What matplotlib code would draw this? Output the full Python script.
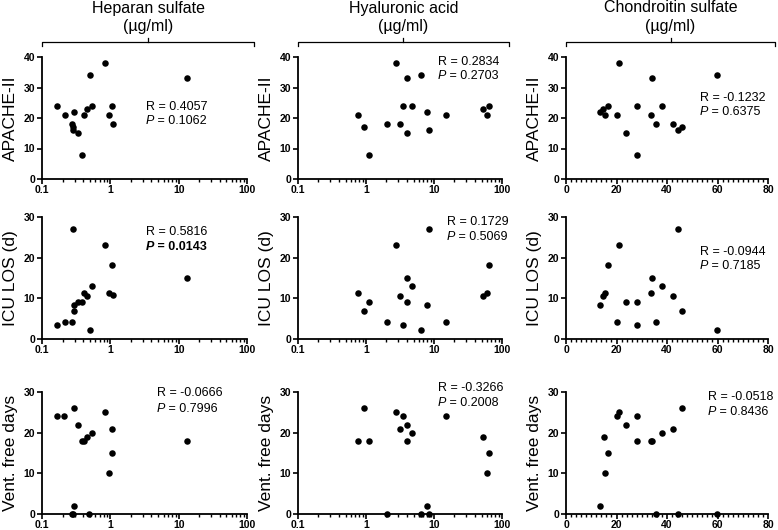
import matplotlib
matplotlib.use("Agg")
import matplotlib.pyplot as plt
from matplotlib.lines import Line2D
from matplotlib.ticker import MultipleLocator, LogLocator, NullFormatter

plt.rcParams["font.family"] = ["Liberation Sans", "DejaVu Sans"]

# ---- datos (n = 17 por panel) ----
col_titles = ["Heparan sulfate\n(µg/ml)", "Hyaluronic acid\n(µg/ml)", "Chondroitin sulfate\n(µg/ml)"]
row_labels = ["APACHE-II", "ICU LOS (d)", "Vent. free days"]

# Heparan sulfate
hs_apache_x = [0.166, 0.215, 0.273, 0.292, 0.282, 0.286, 0.342, 0.379, 0.41, 0.454, 0.497, 0.537, 0.844, 0.967, 1.05, 1.08, 13.2]
hs_apache_y = [24, 21, 18, 22, 17, 16, 15, 8, 21, 23, 34, 24, 38, 21, 24, 18, 33]
hs_los_x = [0.164, 0.215, 0.273, 0.286, 0.292, 0.295, 0.342, 0.379, 0.41, 0.45, 0.497, 0.537, 0.84, 0.967, 1.05, 1.08, 13.2]
hs_los_y = [3.4, 4.2, 4.3, 27, 6.8, 8.4, 9.0, 9.0, 11.3, 10.5, 2.2, 13, 23, 11.4, 18.3, 10.7, 15]
hs_vfd_x = [0.164, 0.213, 0.292, 0.338, 0.379, 0.41, 0.45, 0.537, 0.84, 1.05, 1.05, 0.967, 13.2, 0.29, 0.273, 0.28, 0.49]
hs_vfd_y = [24, 24, 26, 22, 18, 18, 19, 20, 25, 21, 15, 10, 18, 2, 0, 0, 0]

# Hyaluronic acid
ha_apache_x = [0.752, 0.92, 1.12, 2.06, 2.76, 3.13, 3.54, 4.02, 4.06, 4.81, 6.38, 7.92, 8.38, 14.8, 52.5, 60.8, 65.1]
ha_apache_y = [21, 17, 8, 18, 38, 18, 24, 15, 33, 24, 34, 22, 16, 21, 23, 21, 24]
ha_los_x = [0.752, 0.92, 1.12, 2.06, 2.76, 3.13, 3.54, 4.02, 4.02, 4.81, 6.38, 7.92, 8.38, 14.8, 52.5, 60.8, 65.1]
ha_los_y = [11.4, 6.8, 9.0, 4.2, 23, 10.6, 3.4, 15, 9.0, 13, 2.2, 8.4, 27, 4.2, 10.5, 11.3, 18.3]
ha_vfd_x = [0.752, 0.92, 1.12, 2.06, 2.76, 3.13, 3.54, 4.02, 4.06, 4.81, 6.38, 7.92, 8.38, 14.8, 52.5, 60.8, 65.1]
ha_vfd_y = [18, 26, 18, 0, 25, 21, 24, 22, 18, 20, 0, 2, 0, 24, 19, 10, 15]

# Chondroitin sulfate
cs_apache_x = [13.5, 14.5, 15.5, 16.6, 20.0, 20.8, 23.8, 28.2, 28.1, 33.5, 34.0, 35.7, 37.9, 42.3, 44.3, 46.0, 59.7]
cs_apache_y = [22, 23, 21, 24, 21, 38, 15, 24, 8, 21, 33, 18, 24, 18, 16, 17, 34]
cs_los_x = [13.5, 14.7, 15.3, 16.6, 20.0, 20.8, 23.8, 28.1, 28.3, 33.5, 33.9, 35.7, 38.1, 42.3, 44.3, 46.0, 59.7]
cs_los_y = [8.4, 10.5, 11.3, 18.3, 4.2, 23, 9.0, 9.0, 3.4, 11.4, 15, 4.2, 13, 10.5, 27, 6.8, 2.2]
cs_vfd_x = [13.5, 15.0, 15.5, 16.8, 20.0, 20.9, 23.8, 28.1, 28.3, 33.5, 34.2, 35.7, 38.0, 42.3, 44.3, 46.0, 59.7]
cs_vfd_y = [2, 19, 10, 15, 24, 25, 22, 18, 24, 18, 18, 0, 20, 21, 0, 26, 0]

# estadísticos (R, P) por panel; fila = variable clínica, columna = GAG
r_vals = [["0.4057", "0.2834", "-0.1232"],
          ["0.5816", "0.1729", "-0.0944"],
          ["-0.0666", "-0.3266", "-0.0518"]]
p_vals = [["0.1062", "0.2703", "0.6375"],
          ["0.0143", "0.5069", "0.7185"],
          ["0.7996", "0.2008", "0.8436"]]
p_signif = [[False, False, False], [True, False, False], [False, False, False]]

panels = [[(hs_apache_x, hs_apache_y), (ha_apache_x, ha_apache_y), (cs_apache_x, cs_apache_y)],
          [(hs_los_x, hs_los_y), (ha_los_x, ha_los_y), (cs_los_x, cs_los_y)],
          [(hs_vfd_x, hs_vfd_y), (ha_vfd_x, ha_vfd_y), (cs_vfd_x, cs_vfd_y)]]

y_max = [40, 30, 30]

# ---- geometría (píxeles de la figura original 778x530) ----
W, H = 778, 530
col_px = [(42, 247), (298, 502), (566, 768)]
row_px = [(57, 179), (217, 339), (392, 514)]
# posición del texto R/P: (x izquierda, y de R, y de P)
txt_px = [[(146, 107, 121), (438, 62, 76), (700, 98, 112)],
          [(146, 232, 247), (447, 222, 237), (700, 252, 266)],
          [(157, 393, 409), (438, 388, 403), (708, 397, 412)]]

fig = plt.figure(figsize=(W / 100, H / 100), dpi=100)

for i in range(3):
    for j in range(3):
        x0, x1 = col_px[j]
        t0, t1 = row_px[i]
        ax = fig.add_axes([x0 / W, 1 - t1 / H, (x1 - x0) / W, (t1 - t0) / H])
        xs, ys = panels[i][j]
        ax.scatter(xs, ys, s=22, color="black", linewidths=0, zorder=3, clip_on=False)

        for side in ("top", "right"):
            ax.spines[side].set_visible(False)
        for side in ("left", "bottom"):
            ax.spines[side].set_linewidth(1.3)

        if j < 2:
            ax.set_xscale("log")
            ax.set_xlim(0.1, 100)
            ax.set_xticks([0.1, 1, 10, 100])
            ax.set_xticklabels(["0.1", "1", "10", "100"])
            ax.xaxis.set_minor_locator(LogLocator(base=10, subs=range(2, 10)))
            ax.xaxis.set_minor_formatter(NullFormatter())
        else:
            ax.set_xlim(0, 80)
            ax.set_xticks([0, 20, 40, 60, 80])
            ax.xaxis.set_minor_locator(MultipleLocator(2))

        ax.set_ylim(0, y_max[i])
        ax.set_yticks(range(0, y_max[i] + 1, 10))
        ax.tick_params(axis="both", which="major", direction="out", length=3.5,
                       width=1.2, labelsize=7.5)
        ax.tick_params(axis="x", which="major", pad=0.5)
        ax.tick_params(axis="y", which="major", pad=1.5)
        ax.tick_params(axis="x", which="minor", direction="out", length=2, width=1)
        ax.tick_params(axis="y", which="minor", left=False)
        for lab in ax.get_xticklabels() + ax.get_yticklabels():
            lab.set_fontweight("bold")

        ax.set_ylabel(row_labels[i], fontsize=12.5, labelpad=4)

        # texto R / P
        tx, ry, py = txt_px[i][j]
        fw = "bold" if p_signif[i][j] else "normal"
        fig.text(tx / W, 1 - ry / H, f"R = {r_vals[i][j]}", fontsize=9, va="center")
        tp = fig.text(tx / W, 1 - py / H, "P", fontsize=9, va="center",
                      style="italic", weight=fw)
        ax.annotate(f" = {p_vals[i][j]}", xy=(1, 0), xycoords=tp, va="bottom",
                    ha="left", fontsize=9, weight=fw, annotation_clip=False)

# ---- corchetes y títulos de columna ----
yb = 1 - 42 / H
for j in range(3):
    x0, x1 = col_px[j]
    xa, xb = x0 / W, (x1 + 7) / W
    xm = (xa + xb) / 2
    fig.add_artist(Line2D([xa, xa, xb, xb], [yb - 4 / H, yb, yb, yb - 4 / H],
                          color="black", lw=0.9))
    fig.add_artist(Line2D([xm, xm], [yb, yb + 4 / H], color="black", lw=0.9))
    fig.text(xm, 1 - 17 / H, col_titles[j], ha="center", va="center",
             fontsize=11.5, linespacing=1.25)

fig.savefig("out.png", dpi=100)
